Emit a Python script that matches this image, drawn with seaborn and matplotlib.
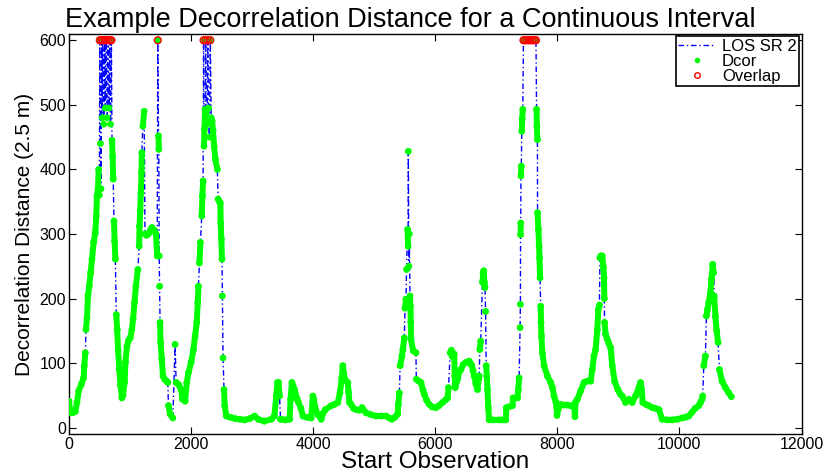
import numpy as np
import pandas as pd
import matplotlib
matplotlib.use("Agg")
import matplotlib.pyplot as plt
import seaborn as sns
from matplotlib.lines import Line2D

# ---------------- data ----------------
obs = [
    0, 22, 60, 104, 131, 159, 202, 240, 251, 268, 278, 295, 311, 333, 355, 377, 404, 431, 447, 458,
    475, 486, 498, 505, 515, 525, 535, 545, 555, 570, 585, 595, 610, 625, 640, 655, 670, 680, 695, 705,
    715, 725, 737, 748, 760, 775, 790, 805, 825, 845, 867, 885, 911, 925, 950, 975, 1003, 1031, 1050, 1074,
    1096, 1129, 1150, 1156, 1167, 1178, 1188, 1194, 1210, 1232, 1245, 1270, 1300, 1330, 1360, 1395, 1425, 1445, 1455, 1467,
    1472, 1478, 1485, 1492, 1500, 1521, 1540, 1565, 1600, 1619, 1630, 1657, 1701, 1739, 1755, 1794, 1837, 1859, 1903, 1930,
    1957, 2001, 2039, 2066, 2093, 2110, 2121, 2137, 2153, 2175, 2186, 2197, 2205, 2212, 2219, 2230, 2240, 2250, 2262, 2275,
    2285, 2300, 2315, 2330, 2344, 2360, 2377, 2398, 2431, 2442, 2465, 2480, 2486, 2496, 2507, 2513, 2524, 2540, 2551, 2578,
    2650, 2720, 2800, 2878, 2960, 3042, 3100, 3200, 3314, 3365, 3396, 3415, 3434, 3450, 3465, 3478, 3550, 3614, 3630, 3652,
    3670, 3695, 3739, 3760, 3800, 3832, 3900, 3968, 3995, 4010, 4040, 4080, 4132, 4160, 4200, 4295, 4350, 4404, 4440, 4469,
    4486, 4500, 4520, 4567, 4580, 4595, 4621, 4660, 4703, 4760, 4801, 4866, 4950, 5030, 5110, 5194, 5250, 5292, 5340, 5384,
    5395, 5412, 5425, 5455, 5470, 5493, 5505, 5520, 5530, 5548, 5555, 5559, 5568, 5575, 5586, 5593, 5600, 5602, 5640, 5684,
    5690, 5730, 5766, 5800, 5820, 5860, 5902, 5950, 6011, 6060, 6120, 6170, 6202, 6218, 6245, 6265, 6280, 6311, 6320, 6327,
    6345, 6365, 6400, 6420, 6460, 6502, 6540, 6556, 6580, 6600, 6620, 6638, 6665, 6692, 6710, 6720, 6730, 6745, 6774, 6785,
    6795, 6805, 6815, 6825, 6835, 6845, 6856, 6870, 6883, 6950, 7047, 7100, 7156, 7165, 7200, 7265, 7275, 7347, 7360, 7374,
    7390, 7395, 7398, 7401, 7404, 7410, 7418, 7425, 7434, 7445, 7475, 7505, 7535, 7565, 7595, 7625, 7650, 7660, 7665, 7674,
    7676, 7690, 7701, 7708, 7717, 7728, 7733, 7739, 7755, 7783, 7837, 7892, 7919, 7946, 7975, 7990, 7995, 8020, 8055, 8110,
    8164, 8220, 8273, 8289, 8300, 8328, 8382, 8437, 8490, 8546, 8573, 8600, 8627, 8655, 8671, 8690, 8698, 8715, 8736, 8755,
    8765, 8770, 8774, 8790, 8818, 8845, 8873, 8900, 8938, 8992, 9030, 9063, 9118, 9172, 9227, 9281, 9336, 9363, 9380, 9400,
    9450, 9500, 9554, 9600, 9663, 9718, 9800, 9881, 9960, 10045, 10099, 10154, 10208, 10260, 10317, 10344, 10371, 10382, 10399, 10426,
    10442, 10460, 10480, 10508, 10525, 10546, 10560, 10570, 10590, 10610, 10633, 10655, 10699, 10753, 10808, 10851,
]
dcor = [
    41, 23, 23, 25, 39, 57, 67, 77, 96, 116, 152, 170, 204, 220, 240, 261, 287, 302, 328, 359,
    369, 400, 360, 600, 440, 370, 600, 480, 600, 470, 600, 495, 600, 480, 600, 495, 600, 470, 600, 445,
    420, 385, 320, 289, 261, 175, 152, 119, 90, 65, 46, 50, 70, 101, 126, 135, 139, 152, 168, 194,
    219, 245, 281, 312, 336, 364, 395, 426, 467, 490, 300, 298, 300, 305, 310, 306, 300, 266, 600, 452,
    431, 266, 219, 163, 132, 106, 80, 75, 72, 70, 34, 21, 15, 129, 70, 67, 59, 44, 41, 70,
    85, 101, 121, 142, 163, 194, 219, 255, 287, 328, 359, 382, 600, 436, 462, 493, 600, 490, 470, 600,
    495, 450, 600, 480, 475, 460, 436, 416, 400, 354, 350, 348, 317, 292, 261, 204, 108, 59, 34, 18,
    16, 14, 13, 12, 14, 18, 13, 10, 13, 18, 49, 70, 70, 49, 13, 13, 12, 13, 44, 70,
    65, 59, 44, 39, 30, 18, 16, 15, 49, 44, 28, 20, 13, 22, 28, 34, 36, 39, 54, 77,
    96, 85, 75, 70, 55, 39, 36, 30, 28, 27, 31, 23, 20, 18, 18, 18, 15, 13, 16, 21,
    36, 54, 96, 111, 121, 139, 185, 199, 245, 307, 281, 428, 250, 300, 204, 188, 163, 137, 119, 116,
    75, 72, 70, 58, 52, 42, 36, 32, 31, 34, 39, 43, 46, 62, 116, 120, 110, 114, 80, 62,
    70, 75, 88, 90, 98, 101, 102, 103, 99, 96, 88, 80, 68, 59, 75, 80, 121, 134, 225, 240,
    243, 225, 217, 180, 96, 80, 59, 31, 12, 12, 12, 12, 12, 31, 32, 34, 46, 46, 59, 77,
    155, 191, 299, 317, 390, 405, 459, 478, 493, 600, 600, 600, 600, 600, 600, 600, 600, 493, 467, 446,
    333, 307, 281, 263, 232, 188, 163, 142, 116, 96, 80, 70, 62, 49, 40, 31, 19, 30, 36, 35,
    35, 34, 34, 17, 40, 44, 57, 70, 72, 72, 90, 111, 121, 152, 183, 190, 263, 266, 266, 248,
    232, 200, 163, 145, 137, 130, 124, 96, 72, 59, 52, 49, 39, 44, 39, 49, 62, 70, 60, 39,
    36, 34, 31, 30, 28, 13, 12, 12, 13, 15, 16, 18, 24, 30, 34, 39, 44, 49, 96, 111,
    173, 183, 194, 209, 230, 253, 240, 204, 172, 150, 132, 90, 72, 62, 54, 48,
]
overlap_level = 600

x_ticks = [0, 2000, 4000, 6000, 8000, 10000, 12000]
y_ticks = [0, 100, 200, 300, 400, 500, 600]

title = "Example Decorrelation Distance for a Continuous Interval"
x_label = "Start Observation"
y_label = "Decorrelation Distance (2.5 m)"
legend_labels = ["LOS SR 2", "Dcor", "Overlap"]

# ---------------- plotting ----------------
sns.set_style("ticks")
plt.rcParams["font.family"] = ["Liberation Sans", "DejaVu Sans"]
plt.rcParams["text.color"] = "black"
plt.rcParams["axes.labelcolor"] = "black"
plt.rcParams["xtick.color"] = "black"
plt.rcParams["ytick.color"] = "black"

df = pd.DataFrame({"obs": obs, "dcor": dcor})
ov = df[df["dcor"] >= overlap_level]

blue = "#0000ff"
green = "#00ff00"
red = "#ff0000"

fig = plt.figure(figsize=(8.24, 4.76), dpi=100)
ax = fig.add_axes([0.0837, 0.088, 0.889, 0.841])

sns.lineplot(data=df, x="obs", y="dcor", sort=False, estimator=None, ax=ax,
             color=blue, lw=1.0, linestyle=(0, (4, 2, 1, 2)), zorder=2)

# continuous runs of Dcor appear as thick green bands
xs = np.asarray(obs)
ys = np.asarray(dcor)
breaks = np.where(np.abs(np.diff(ys)) > 35)[0] + 1
for seg in np.split(np.arange(len(xs)), breaks):
    if len(seg) > 1:
        ax.plot(xs[seg], ys[seg], color=green, lw=4.3, solid_capstyle="round",
                solid_joinstyle="round", zorder=3)

sns.scatterplot(data=df, x="obs", y="dcor", ax=ax, color=green, s=24,
                edgecolor="none", zorder=4)
sns.scatterplot(data=ov, x="obs", y="dcor", ax=ax, marker="o", s=24,
                facecolor="none", edgecolor=red, linewidth=1.0, zorder=5)

ax.set_xlim(0, 12000)
ax.set_ylim(-10, 610)
ax.set_xticks(x_ticks)
ax.set_yticks(y_ticks)
ax.tick_params(direction="in", length=5, width=0.8, top=True, right=True,
               labelsize=11.5, pad=2, colors="black")
for s in ax.spines.values():
    s.set_visible(True)
    s.set_linewidth(1.0)
    s.set_color("black")

ax.set_title(title, fontsize=19.5, pad=5, x=0.466, color="black")
ax.set_xlabel(x_label, fontsize=17.5, labelpad=-0.5, color="black")
ax.set_ylabel(y_label, fontsize=15, labelpad=4, color="black")

handles = [
    Line2D([], [], color=blue, lw=1.0, linestyle=(0, (4, 2, 1, 2))),
    Line2D([], [], color=green, marker="o", markersize=4, linestyle="none", markeredgecolor="none"),
    Line2D([], [], color=red, marker="o", markersize=4, linestyle="none", markerfacecolor="none"),
]
leg = ax.legend(handles, legend_labels, loc="upper right", fontsize=12,
                frameon=True, fancybox=False, edgecolor="black", framealpha=1,
                borderaxespad=0.15, borderpad=0.15, labelspacing=0.0,
                handlelength=2.2, handletextpad=0.4)
leg.get_frame().set_linewidth(1.2)
for t in leg.get_texts():
    t.set_color("black")

fig.savefig("out.png", dpi=100)
